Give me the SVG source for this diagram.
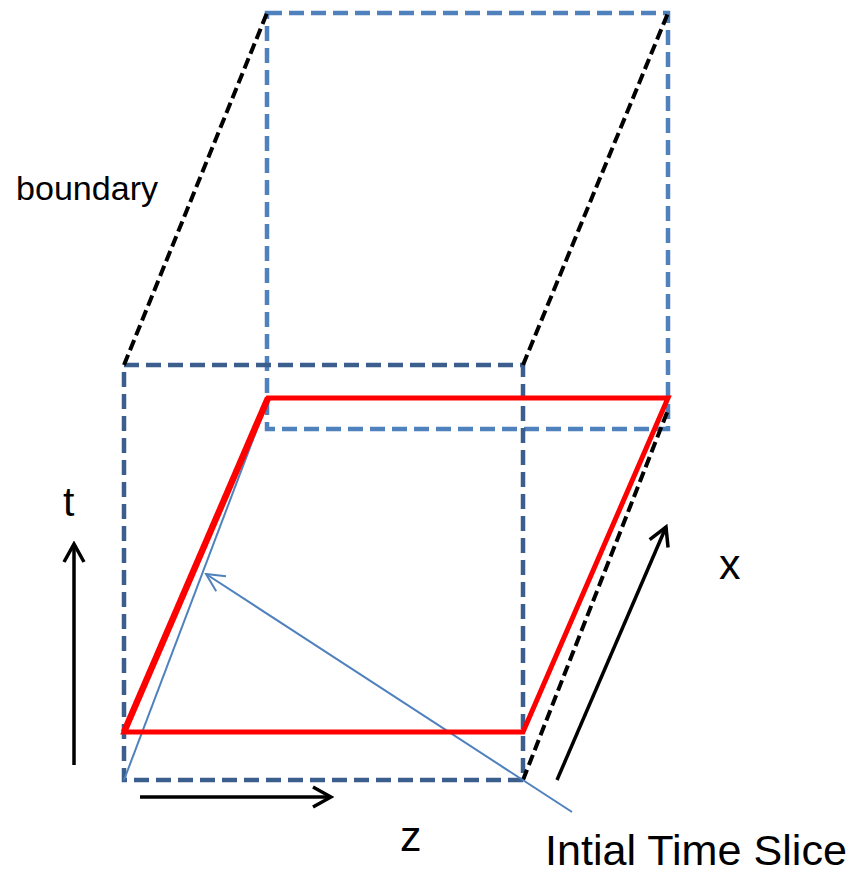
<svg xmlns="http://www.w3.org/2000/svg" width="865" height="873" viewBox="0 0 865 873">
<defs>
<style>
.back{fill:none;stroke:#4F81BD;stroke-width:4.5;stroke-dasharray:15 7}
.front{fill:none;stroke:#3B5E8C;stroke-width:4.5;stroke-dasharray:15 7}
.bdash{fill:none;stroke:#000;stroke-width:4;stroke-dasharray:11 5}
.red{fill:none;stroke:#FF0000;stroke-width:5;stroke-linejoin:miter}
.redl{fill:none;stroke:#FF0000;stroke-width:6.5}
.thin{fill:none;stroke:#4F81BD;stroke-width:2}
.axis{fill:none;stroke:#000;stroke-width:3.5}
.lbl{font-family:"Liberation Sans",Arial,sans-serif;fill:#000}
</style>
<marker id="ah" viewBox="0 0 24 24" refX="21" refY="12" markerWidth="24" markerHeight="24" markerUnits="userSpaceOnUse" orient="auto">
<path d="M3,2 L21,12 L3,22" fill="none" stroke="#000" stroke-width="3.5"/>
</marker>
<marker id="ahb" viewBox="0 0 24 24" refX="22" refY="12" markerWidth="24" markerHeight="24" markerUnits="userSpaceOnUse" orient="auto">
<path d="M4,3 L22,12 L4,21" fill="none" stroke="#4F81BD" stroke-width="2"/>
</marker>
</defs>
<g id="back-box">
<rect class="back" x="267" y="13" width="401" height="416"/>
</g>
<g id="front-box">
<rect class="front" x="124" y="365" width="399" height="415"/>
</g>
<g id="connectors">
<line class="bdash" x1="124" y1="365" x2="267" y2="13"/>
<line class="bdash" x1="523" y1="365" x2="668" y2="13"/>
<line class="bdash" x1="523" y1="780" x2="668" y2="410"/>
<line class="thin" x1="124" y1="780" x2="268" y2="400"/>
<line class="thin" x1="572" y1="812" x2="206" y2="574" marker-end="url(#ahb)"/>
<line class="axis" x1="74" y1="765" x2="74" y2="544" marker-end="url(#ah)"/>
<line class="axis" x1="140" y1="797" x2="331" y2="797" marker-end="url(#ah)"/>
<line class="axis" x1="557" y1="780" x2="666" y2="527" marker-end="url(#ah)"/>
</g>
<g id="time-slice">
<polygon class="red" points="124,732 268,398 668,398 523,732"/>
<line class="redl" x1="124" y1="732" x2="268" y2="398"/>
</g>
<g id="labels">
<text class="lbl" x="16" y="200" font-size="34" textLength="142" lengthAdjust="spacingAndGlyphs">boundary</text>
<text class="lbl" x="63" y="516" font-size="41">t</text>
<text class="lbl" x="719" y="579" font-size="43">x</text>
<text class="lbl" x="400" y="851" font-size="43">z</text>
<text class="lbl" x="545" y="865" font-size="42" textLength="302" lengthAdjust="spacingAndGlyphs">Intial Time Slice</text>
</g>
</svg>
